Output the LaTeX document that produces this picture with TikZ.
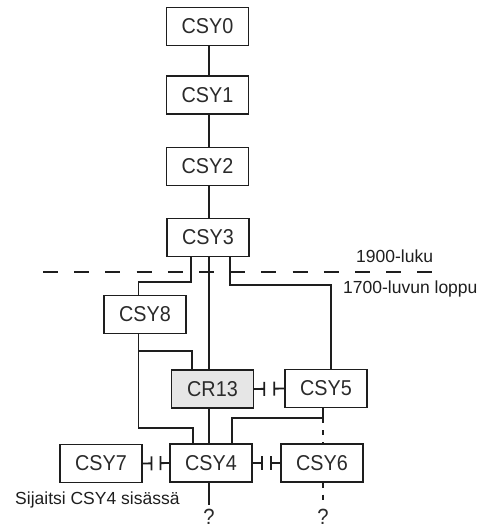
\documentclass[tikz,border=0pt]{standalone}
\usepackage{fontspec}
\setmainfont{Liberation Sans}
\newfontfamily\boxfont[FakeStretch=0.92]{Liberation Sans}
\usetikzlibrary{calc}
\definecolor{ink}{HTML}{1E1E1E}
\definecolor{txt}{HTML}{2A2A2A}
\definecolor{shade}{HTML}{E6E6E6}
\newcommand{\incompat}[2]{%
  \draw[conn] (#1.east) -- ($(#1.east)!1/3!(#2.west)$) ++(0,-7) -- ++(0,14);
  \draw[conn] (#2.west) -- ($(#1.east)!2/3!(#2.west)$) ++(0,-7) -- ++(0,14);
}
\begin{document}
\begin{tikzpicture}[x=1pt,y=-1pt,
  box/.style={draw=ink, line width=1.4pt, minimum width=82pt, minimum height=38pt,
    inner sep=0pt, text=txt, font=\boxfont\fontsize{21.5}{21.5}\selectfont},
  conn/.style={draw=ink, line width=1.8pt},
  dashdot/.style={dash pattern=on 5pt off 7pt},
  note/.style={text=ink, font=\fontsize{17.5}{18}\selectfont, inner sep=0pt},
  qmark/.style={text=txt, font=\boxfont\fontsize{22}{22}\selectfont, inner sep=0pt, anchor=north}]
\useasboundingbox (0,0) rectangle (502,528);
% boxes
\node[box] (csy0) at (207.5,26.5) {CSY0};
\node[box] (csy1) at (207.5,95) {CSY1};
\node[box] (csy2) at (207.5,166.5) {CSY2};
\node[box] (csy3) at (208,237.5) {CSY3};
\node[box] (csy8) at (145,314.5) {CSY8};
\node[box, fill=shade] (cr13) at (212.5,389) {CR13};
\node[box] (csy5) at (326,388.5) {CSY5};
\node[box] (csy4) at (211,463) {CSY4};
\node[box] (csy7) at (101,463.5) {CSY7};
\node[box] (csy6) at (322,463) {CSY6};
% notes
\node[note, anchor=base west] (n1900) at (356,262) {1900-luku};
\node[note, anchor=base west] (n1700) at (343,293) {1700-luvun loppu};
\node[note, anchor=base west] (nsij) at (15,504) {Sijaitsi CSY4 sisässä};
\node[qmark] (q1) at (209,508.5) {?};
\node[qmark] (q2) at (323,508.5) {?};
% dashed era line
\coordinate (d0) at (43,272);
\coordinate (d1) at (432,272);
\draw[ink, line width=1.8pt, dash pattern=on 15pt off 16.2pt] (d0) -- (d1);
% helper coordinates
\coordinate (m) at (209,0);
\coordinate (t8) at (138.5,0);
\coordinate (c5) at (331,0);
\coordinate (a1) at (191,282);
\coordinate (a2) at (230,285);
\coordinate (k1) at (193,428);
\coordinate (k2) at (192,351);
\coordinate (k3) at (232,418);
\coordinate (k4) at (323,418);
% main trunk
\draw[conn] (csy0.south -| m) -- (csy1.north -| m);
\draw[conn] (csy1.south -| m) -- (csy2.north -| m);
\draw[conn] (csy2.south -| m) -- (csy3.north -| m);
\draw[conn] (csy3.south -| m) -- (cr13.north -| m);
\draw[conn] (cr13.south -| m) -- (csy4.north -| m);
\draw[conn] (csy4.south -| m) -- ($(q1.north -| m)+(0,-4)$);
% branches
\draw[conn] (csy3.south -| a1) -- (a1) -- (a1 -| t8) -- (csy8.north -| t8);
\draw[conn] (csy3.south -| a2) -- (a2) -- (a2 -| c5) -- (csy5.north -| c5);
\draw[conn] (csy8.south -| t8) -- (k1 -| t8) -- (k1) -- (csy4.north -| k1);
\draw[conn] (k2 -| t8) -- (k2) -- (cr13.north -| k2);
\draw[conn] (csy5.south -| k4) -- (k4) -- (k3) -- (csy4.north -| k3);
\draw[conn, dashdot] (k4) -- (csy6.north -| k4);
\draw[conn, dashdot] (csy6.south -| k4) -- ($(q2.north -| k4)+(0,-4)$);
% incompatibility marks
\incompat{cr13}{csy5}
\incompat{csy7}{csy4}
\incompat{csy4}{csy6}
\end{tikzpicture}
\end{document}
